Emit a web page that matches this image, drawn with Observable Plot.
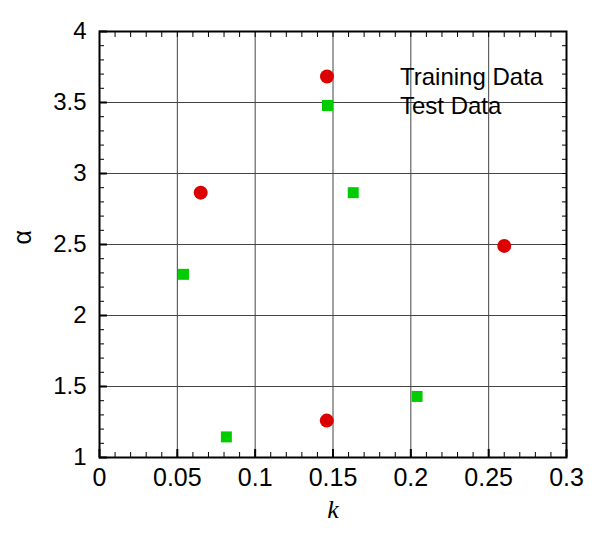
<!DOCTYPE html>
<html>
<head>
<meta charset="utf-8">
<script src="https://cdn.jsdelivr.net/npm/d3@7"></script>
<script src="https://cdn.jsdelivr.net/npm/@observablehq/plot@0.6"></script>
<style>
  html, body { margin: 0; padding: 0; background: #fff; }
  #wrap { position: relative; width: 600px; height: 533px; font-family: Arial, "Liberation Sans", sans-serif; }
  #legend { position: absolute; left: 312px; top: 62px; font-size: 24px; color: #000; }
  .row { display: flex; align-items: center; height: 29px; }
  .row svg { width: 30px; height: 29px; margin-right: 58px; }
</style>
</head>
<body>
<div id="wrap"></div>
<script>
// Training data (red circles)
const trainK = [0.065, 0.146, 0.260];
const trainAlpha = [2.865, 1.26, 2.49];
// Test data (green squares)
const testK = [0.054, 0.0815, 0.163, 0.204];
const testAlpha = [2.29, 1.145, 2.865, 1.43];

const xTicks = [0, 0.05, 0.1, 0.15, 0.2, 0.25, 0.3];
const yTicks = [1, 1.5, 2, 2.5, 3, 3.5, 4];
const xMinor = d3.range(0, 0.3001, 0.01).map(v => +v.toFixed(2));
const yMinor = d3.range(1, 4.0001, 0.1).map(v => +v.toFixed(1));

const training = trainK.map((k, i) => ({k, alpha: trainAlpha[i]}));
const test = testK.map((k, i) => ({k, alpha: testAlpha[i]}));

const RED = "#dd0000", GREEN = "#00cc00";

const chart = Plot.plot({
  width: 600,
  height: 533,
  marginLeft: 99,
  marginRight: 34,
  marginTop: 31,
  marginBottom: 76,
  style: {fontFamily: "Arial, 'Liberation Sans', sans-serif", fontSize: "25px", color: "#000", background: "#fff"},
  x: {domain: [0, 0.3]},
  y: {domain: [1, 4]},
  marks: [
    Plot.gridX(xTicks, {stroke: "#444", strokeOpacity: 1, strokeWidth: 1}),
    Plot.gridY(yTicks, {stroke: "#444", strokeOpacity: 1, strokeWidth: 1}),
    Plot.axisX(xMinor, {tickSize: -5, text: null, label: null, stroke: "#000", strokeWidth: 1}),
    Plot.axisX(xMinor, {anchor: "top", tickSize: -5, text: null, label: null, stroke: "#000", strokeWidth: 1}),
    Plot.axisY(yMinor, {tickSize: -5, text: null, label: null, stroke: "#000", strokeWidth: 1}),
    Plot.axisY(yMinor, {anchor: "right", tickSize: -5, text: null, label: null, stroke: "#000", strokeWidth: 1}),
    Plot.axisX(xTicks, {tickSize: -8, strokeWidth: 2, tickPadding: 19, label: null, fontSize: 25, tickFormat: d => String(d)}),
    Plot.axisY(yTicks, {tickSize: -8, strokeWidth: 2, tickPadding: 21, label: null, fontSize: 24, tickFormat: d => String(d)}),
    Plot.frame({stroke: "#000", strokeWidth: 2}),
    Plot.dot(training, {x: "k", y: "alpha", r: 7, fill: RED, stroke: null, symbol: "circle"}),
    Plot.dot(test, {x: "k", y: "alpha", r: 6.2, fill: GREEN, stroke: null, symbol: "square"}),
    Plot.text(["α"], {text: d => d, frameAnchor: "left", dx: -77, rotate: -90, fontSize: 25, fill: "#000"}),
    Plot.text(["k"], {text: d => d, frameAnchor: "bottom", dy: 60, fontSize: 26, fontFamily: "'Liberation Serif', 'Times New Roman', serif", fontStyle: "italic", fill: "#000"})
  ]
});

const wrap = document.getElementById("wrap");
wrap.appendChild(chart);

const legendItems = [
  {label: "Training Data", color: RED, shape: "circle"},
  {label: "Test Data", color: GREEN, shape: "square"}
];
const legend = document.createElement("div");
legend.id = "legend";
legend.innerHTML = legendItems.map(it => `
  <div class="row">
    <svg viewBox="0 0 30 29">${it.shape === "circle"
      ? `<circle cx="15" cy="14.5" r="7" fill="${it.color}"/>`
      : `<rect x="10" y="9" width="11" height="11" fill="${it.color}"/>`}</svg>
    <span>${it.label}</span>
  </div>`).join("");
wrap.appendChild(legend);
</script>
</body>
</html>
